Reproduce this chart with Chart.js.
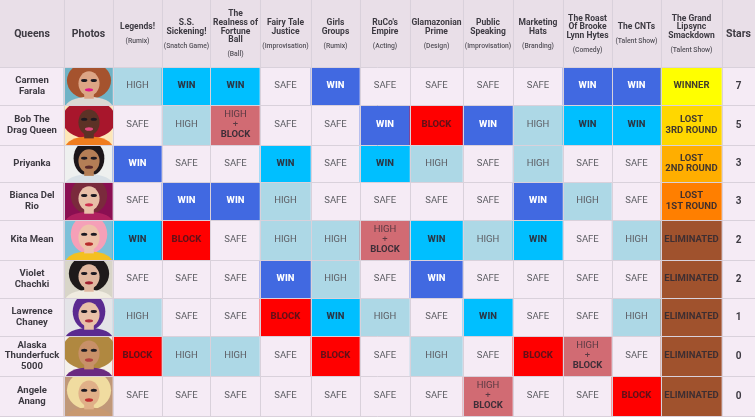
<!DOCTYPE html>
<html>
<head>
<meta charset="utf-8">
<title>Queens</title>
<script src="https://cdn.jsdelivr.net/npm/chart.js@4"></script>
<style>
  html, body { margin: 0; padding: 0; background: #f5eaf5; }
  canvas { display: block; }
</style>
</head>
<body>
<canvas id="my-canvas" width="755" height="417"></canvas>
<script>
const challenges = ['Legends!', 'S.S.\nSickening!', 'The\nRealness of\nFortune\nBall', 'Fairy Tale\nJustice', 'Girls\nGroups',
  "RuCo's\nEmpire", 'Glamazonian\nPrime', 'Public\nSpeaking', 'Marketing\nHats', 'The Roast\nOf Brooke\nLynn Hytes', 'The CNTs', 'The Grand\nLipsync\nSmackdown'];
const challengeTypes = ['(Rumix)', '(Snatch Game)', '(Ball)', '(Improvisation)', '(Rumix)', '(Acting)', '(Design)',
  '(Improvisation)', '(Branding)', '(Comedy)', '(Talent Show)', '(Talent Show)'];
const queens = ['Carmen\nFarala', 'Bob The\nDrag Queen', 'Priyanka', 'Bianca Del\nRio', 'Kita Mean', 'Violet\nChachki',
  'Lawrence\nChaney', 'Alaska\nThunderfuck\n5000', 'Angele\nAnang'];
const stars = [7, 5, 3, 3, 2, 2, 1, 0, 0];

// WIN = royal blue win, TOP = sky blue win, HB = high + block
const carmen = ['HIGH', 'TOP', 'TOP', 'SAFE', 'WIN', 'SAFE', 'SAFE', 'SAFE', 'SAFE', 'WIN', 'WIN', 'WINNER'];
const bob = ['SAFE', 'HIGH', 'HB', 'SAFE', 'SAFE', 'WIN', 'BLOCK', 'WIN', 'HIGH', 'TOP', 'TOP', 'LOST3'];
const priyanka = ['WIN', 'SAFE', 'SAFE', 'TOP', 'SAFE', 'TOP', 'HIGH', 'SAFE', 'HIGH', 'SAFE', 'SAFE', 'LOST2'];
const bianca = ['SAFE', 'WIN', 'WIN', 'HIGH', 'SAFE', 'SAFE', 'SAFE', 'SAFE', 'WIN', 'HIGH', 'SAFE', 'LOST1'];
const kita = ['TOP', 'BLOCK', 'SAFE', 'HIGH', 'HIGH', 'HB', 'TOP', 'HIGH', 'TOP', 'SAFE', 'HIGH', 'ELIM'];
const violet = ['SAFE', 'SAFE', 'SAFE', 'WIN', 'HIGH', 'SAFE', 'WIN', 'SAFE', 'SAFE', 'SAFE', 'SAFE', 'ELIM'];
const lawrence = ['HIGH', 'SAFE', 'SAFE', 'BLOCK', 'TOP', 'HIGH', 'SAFE', 'TOP', 'SAFE', 'SAFE', 'HIGH', 'ELIM'];
const alaska = ['BLOCK', 'HIGH', 'HIGH', 'SAFE', 'BLOCK', 'SAFE', 'HIGH', 'SAFE', 'BLOCK', 'HB', 'SAFE', 'ELIM'];
const angele = ['SAFE', 'SAFE', 'SAFE', 'SAFE', 'SAFE', 'SAFE', 'SAFE', 'HB', 'SAFE', 'SAFE', 'BLOCK', 'ELIM'];
const results = [carmen, bob, priyanka, bianca, kita, violet, lawrence, alaska, angele];

// table layout, 1 axis unit = 1 pixel
const colEdges = [0, 64, 113, 162, 211, 260, 311, 360, 410, 463, 513, 563, 612, 661, 722, 755];
const rowEdges = [0, 67, 105, 145, 182, 220, 260, 298, 336, 376, 416];

const FONT = 'Roboto, sans-serif';
const HEAD_BG = '#e9dfe8';
const CELL_BG = '#f5ebf5';
const GRID = '#d9d1db';
const DARK = 'rgba(45,40,50,0.9)';

const resultStyles = {
  SAFE: { bg: CELL_BG, text: ['SAFE'] },
  HIGH: { bg: '#add8e6', text: ['HIGH'] },
  WIN: { bg: '#4169e1', text: ['WIN'], color: '#ffffff', weight: 800 },
  TOP: { bg: '#00bfff', text: ['WIN'], color: DARK, weight: 800 },
  BLOCK: { bg: '#ff0000', text: ['BLOCK'], color: 'rgba(60,20,30,0.8)', weight: 800 },
  HB: { bg: '#d16b73', text: ['HIGH', '+', 'BLOCK'] },
  WINNER: { bg: '#ffff00', text: ['WINNER'], color: DARK, weight: 700 },
  LOST3: { bg: '#ffd700', text: ['LOST', '3RD ROUND'], color: DARK, weight: 700 },
  LOST2: { bg: '#ffae00', text: ['LOST', '2ND ROUND'], color: DARK, weight: 700 },
  LOST1: { bg: '#ff7f00', text: ['LOST', '1ST ROUND'], color: DARK, weight: 700 },
  ELIM: { bg: '#a0522d', text: ['ELIMINATED'], color: 'rgba(45,40,50,0.85)', weight: 700 }
};

// rough stand-ins for the photos: background, hair, skin, top, lips, hair width
const portraits = [
  ['#6fb3c6', '#a5532e', '#dca585', '#dcd8d4', '#e0148c', 0.46],
  ['#fde7b8', '#a8162c', '#5c3226', '#f07d1e', '#e24a80', 0.56],
  ['#eef0ef', '#1c1619', '#b47e56', '#d8e0e6', '#5a2a2a', 0.32],
  ['#8a0f52', '#7a2a3c', '#e8bfa8', '#b02060', '#d03050', 0.38],
  ['#7cc0d8', '#f5a0b8', '#eec2aa', '#f4c020', '#b82c2c', 0.38],
  ['#d8d5c8', '#1e1a1a', '#e0b8a0', '#f0ece0', '#a02030', 0.42],
  ['#e4e4e8', '#5a2a90', '#e8c0a8', '#5a2a90', '#b03040', 0.34],
  ['#f4f0ea', '#b08840', '#c89068', '#6a2a80', '#b04040', 0.56],
  ['#c09878', '#f0dca0', '#e0b088', '#c89870', '#c03030', 0.46]
];

const headerCells = colEdges.slice(1).map((e, i) => ({ x: [colEdges[i], e], y: rowEdges[0] + (rowEdges[1] - rowEdges[0]) / 2 }));

const tableDatasets = [{
  label: 'Header',
  data: headerCells,
  backgroundColor: HEAD_BG,
  barThickness: rowEdges[1] - rowEdges[0],
  grouped: false
}];
results.forEach((row, r) => {
  const top = rowEdges[r + 1], bottom = rowEdges[r + 2];
  const keys = ['NAME', 'PHOTO'].concat(row, ['STARS']);
  tableDatasets.push({
    label: queens[r].replace(/\n/g, ' '),
    data: keys.map((k, c) => ({ x: [colEdges[c], colEdges[c + 1]], y: (top + bottom) / 2 })),
    backgroundColor: keys.map((k, c) => c === 1 ? portraits[r][0] : (resultStyles[k] ? resultStyles[k].bg : CELL_BG)),
    barThickness: bottom - top,
    grouped: false
  });
});

function drawLines(ctx, lines, cx, cy, gap) {
  lines.forEach((line, i) => ctx.fillText(line, cx, cy + (i - (lines.length - 1) / 2) * gap));
}

function drawPortrait(ctx, l, t, w, h, p) {
  const cx = l + w / 2;
  ctx.save();
  ctx.beginPath();
  ctx.rect(l, t, w, h);
  ctx.clip();
  ctx.fillStyle = p[1];
  ctx.beginPath();
  ctx.ellipse(cx, t + h * 0.34, w * p[5], h * 0.5, 0, 0, Math.PI * 2);
  ctx.fill();
  ctx.fillStyle = p[3];
  ctx.beginPath();
  ctx.ellipse(cx, t + h * 1.08, w * 0.5, h * 0.3, 0, 0, Math.PI * 2);
  ctx.fill();
  ctx.fillStyle = p[2];
  ctx.fillRect(cx - w * 0.1, t + h * 0.55, w * 0.2, h * 0.28);
  ctx.beginPath();
  ctx.ellipse(cx, t + h * 0.42, w * 0.22, h * 0.33, 0, 0, Math.PI * 2);
  ctx.fill();
  ctx.fillStyle = '#1d1a22';
  ctx.beginPath();
  ctx.ellipse(cx - w * 0.1, t + h * 0.34, w * 0.065, h * 0.04, 0, 0, Math.PI * 2);
  ctx.ellipse(cx + w * 0.1, t + h * 0.34, w * 0.065, h * 0.04, 0, 0, Math.PI * 2);
  ctx.fill();
  ctx.fillStyle = p[4];
  ctx.beginPath();
  ctx.ellipse(cx, t + h * 0.59, w * 0.085, h * 0.045, 0, 0, Math.PI * 2);
  ctx.fill();
  ctx.restore();
}

const tableText = {
  id: 'tableText',
  afterDraw(chart) {
    const { ctx, scales: { x, y } } = chart;
    const colMid = c => x.getPixelForValue((colEdges[c] + colEdges[c + 1]) / 2);
    const rowMid = r => y.getPixelForValue((rowEdges[r] + rowEdges[r + 1]) / 2);
    ctx.save();
    ctx.textAlign = 'center';
    ctx.textBaseline = 'middle';

    // header
    const headY = 34.5;
    ctx.fillStyle = '#3d3a42';
    ctx.font = `700 10.5px ${FONT}`;
    ctx.fillText('Queens', colMid(0), headY);
    ctx.fillText('Photos', colMid(1), headY);
    ctx.fillText('Stars', colMid(14), headY);
    challenges.forEach((name, i) => {
      const lines = name.split('\n');
      const block = (lines.length - 1) * 8.67 + 14.5;
      const start = headY - block / 2;
      ctx.fillStyle = '#3d3a42';
      ctx.font = `700 8.5px ${FONT}`;
      lines.forEach((line, k) => ctx.fillText(line, colMid(i + 2), start + k * 8.67));
      ctx.fillStyle = '#55525a';
      ctx.font = `500 6.8px ${FONT}`;
      ctx.fillText(challengeTypes[i], colMid(i + 2), start + block);
    });

    // rows
    results.forEach((row, r) => {
      const cy = rowMid(r + 1);
      ctx.fillStyle = '#3d3a42';
      ctx.font = `700 9.5px ${FONT}`;
      drawLines(ctx, queens[r].split('\n'), colMid(0), cy, 10.3);
      drawPortrait(ctx, x.getPixelForValue(colEdges[1]) + 1, y.getPixelForValue(rowEdges[r + 1]) + 1,
        colEdges[2] - colEdges[1] - 1, rowEdges[r + 2] - rowEdges[r + 1] - 1, portraits[r]);
      ctx.font = `700 10px ${FONT}`;
      ctx.fillStyle = '#3d3a42';
      ctx.fillText(String(stars[r]), colMid(14), cy);

      row.forEach((key, c) => {
        const st = resultStyles[key];
        if (key === 'HB') {
          const cx = colMid(c + 2);
          ctx.fillStyle = 'rgba(60,45,55,0.8)';
          ctx.font = `400 9.5px ${FONT}`;
          ctx.fillText('HIGH', cx, cy - 10);
          ctx.fillText('+', cx, cy);
          ctx.fillStyle = DARK;
          ctx.font = `700 9.5px ${FONT}`;
          ctx.fillText('BLOCK', cx, cy + 10);
          return;
        }
        ctx.fillStyle = st.color || '#5c5c62';
        ctx.font = `${st.weight || 400} 9.5px ${FONT}`;
        drawLines(ctx, st.text, colMid(c + 2), cy, 10.3);
      });
    });
    ctx.restore();
  }
};

const gridAxis = (edges, max) => ({
  type: 'linear',
  min: 0,
  max: max,
  offset: false,
  display: true,
  grid: { color: GRID, lineWidth: 1, drawTicks: false, offset: false, z: 1 },
  border: { display: false },
  ticks: { display: false },
  afterBuildTicks: axis => { axis.ticks = edges.map(value => ({ value })); }
});

const chart = new Chart(document.getElementById('my-canvas').getContext('2d'), {
  type: 'bar',
  data: { datasets: tableDatasets },
  options: {
    indexAxis: 'y',
    responsive: false,
    animation: false,
    layout: { padding: 0 },
    plugins: { legend: { display: false }, tooltip: { enabled: false } },
    scales: {
      x: gridAxis(colEdges.slice(1, -1), 755),
      y: Object.assign(gridAxis(rowEdges.slice(1), 417), { reverse: true })
    }
  },
  plugins: [tableText]
});
</script>
</body>
</html>
